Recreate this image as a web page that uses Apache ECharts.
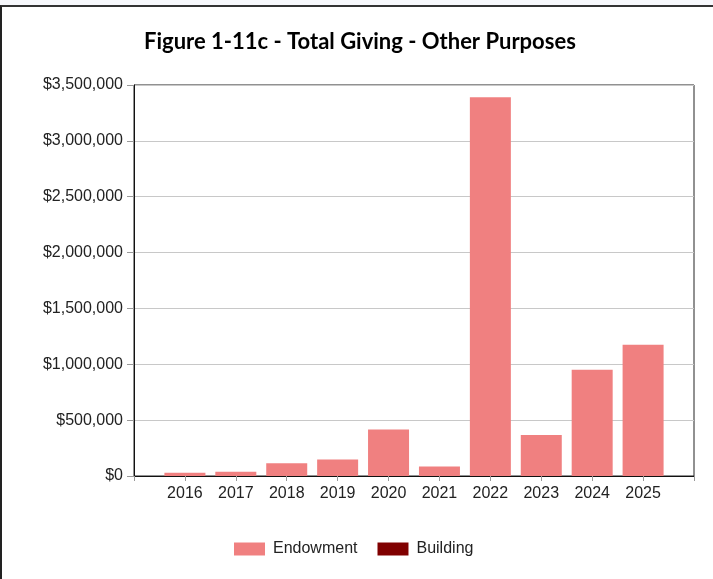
<!DOCTYPE html>
<html>
<head>
<meta charset="utf-8">
<script src="https://cdn.jsdelivr.net/npm/echarts@6/dist/echarts.min.js"></script>
<style>
  html, body { margin: 0; padding: 0; width: 713px; height: 579px; overflow: hidden; background: #f7f8fc; }
  #frame { position: absolute; left: 0; top: 5px; width: 760px; height: 620px; background: #ffffff;
           border-top: 2px solid #333; border-left: 2px solid #222; box-sizing: border-box; }
  #chart { position: absolute; left: 0; top: 0; width: 713px; height: 579px; }
</style>
</head>
<body>
<div id="frame"></div>
<div id="chart"></div>
<script>
const years = [2016, 2017, 2018, 2019, 2020, 2021, 2022, 2023, 2024, 2025];
const endowment = [30000, 38000, 114000, 147000, 416000, 84000, 3390000, 367000, 950000, 1174000];
const building = [0, 0, 0, 0, 0, 0, 0, 0, 0, 0];
const yTicks = { min: 0, max: 3500000, interval: 500000 };

const chart = echarts.init(document.getElementById('chart'), null, { renderer: 'canvas' });
const fmtMoney = v => '$' + Math.round(v).toString().replace(/\B(?=(\d{3})+(?!\d))/g, ',');

chart.setOption({
  animation: false,
  backgroundColor: 'transparent',
  title: {
    text: 'Figure 1-11c - Total Giving - Other Purposes',
    left: 139,
    top: 26,
    textStyle: { fontFamily: 'Lato', fontWeight: 'bold', fontSize: 22, color: '#000' }
  },
  legend: {
    data: ['Endowment', 'Building'],
    left: 229,
    top: 536,
    itemWidth: 31,
    itemHeight: 13,
    itemGap: 20,
    icon: 'rect',
    textStyle: { fontFamily: 'Liberation Sans', fontSize: 16, color: '#222', padding: [0, 0, 0, 3] }
  },
  grid: {
    left: 134, right: 19, top: 85, bottom: 103,
    show: true, borderColor: '#222', borderWidth: 1, backgroundColor: 'transparent'
  },
  xAxis: {
    type: 'value',
    min: 2015, max: 2026, interval: 1,
    axisLine: { show: true, lineStyle: { color: '#111', width: 1 } },
    axisTick: { show: true, length: 5, lineStyle: { color: '#999' } },
    splitLine: { show: false },
    axisLabel: {
      fontFamily: 'Liberation Sans', fontSize: 16, color: '#222', margin: 10,
      formatter: v => (v >= years[0] && v <= years[years.length - 1]) ? String(v) : ''
    }
  },
  yAxis: {
    type: 'value',
    min: yTicks.min, max: yTicks.max, interval: yTicks.interval,
    axisLine: { show: true, lineStyle: { color: '#111', width: 1 } },
    axisTick: { show: true, length: 7, lineStyle: { color: '#999' } },
    splitLine: { show: true, lineStyle: { color: '#c8c8c8', width: 1 } },
    axisLabel: { fontFamily: 'Liberation Sans', fontSize: 16, color: '#222', margin: 11, formatter: fmtMoney }
  },
  series: [
    {
      name: 'Endowment', type: 'bar', stack: 'total', barWidth: 41,
      itemStyle: { color: '#F08080' },
      data: years.map((y, i) => [y, endowment[i]])
    },
    {
      name: 'Building', type: 'bar', stack: 'total', barWidth: 41,
      itemStyle: { color: '#800000' },
      data: years.map((y, i) => [y, building[i]])
    }
  ]
});
</script>
</body>
</html>
